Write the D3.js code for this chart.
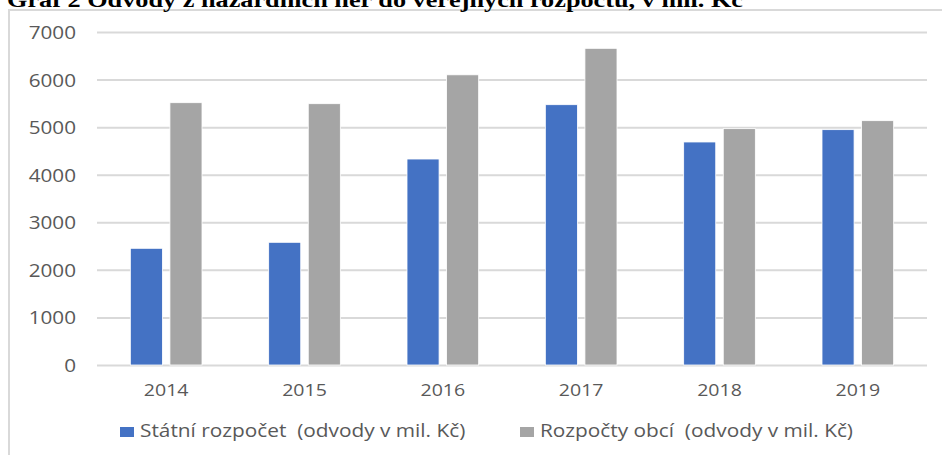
<!DOCTYPE html>
<html>
<head>
<meta charset="utf-8">
<script src="https://cdn.jsdelivr.net/npm/d3@7"></script>
<style>
  body { margin: 0; background: #fff; }
  svg { display: block; }
  text { white-space: pre; }
</style>
</head>
<body>
<div id="chart"></div>
<script>
// data
var years = ["2014", "2015", "2016", "2017", "2018", "2019"];
var statni = [2453, 2579, 4330, 5472, 4688, 4947];
var obce = [5514, 5493, 6100, 6657, 4968, 5136];
var seriesNames = ["Státní rozpočet  (odvody v mil. Kč)", "Rozpočty obcí  (odvody v mil. Kč)"];
var seriesColors = ["#4472C4", "#A5A5A5"];
var yTicks = [0, 1000, 2000, 3000, 4000, 5000, 6000, 7000];
var title = "Graf 2 Odvody z hazardních her do veřejných rozpočtů, v mil. Kč";

var W = 942, H = 455;
var margin = { top: 32, right: 15, bottom: 90, left: 97 };
var sx = 1.15; // text in the picture is stretched sideways

var svg = d3.select("#chart").append("svg")
  .attr("width", W)
  .attr("height", H);

// chart frame (runs off the right and bottom edges)
svg.append("rect")
  .attr("x", 9).attr("y", 10)
  .attr("width", 960).attr("height", 480)
  .attr("fill", "none")
  .attr("stroke", "#d9d9d9")
  .attr("stroke-width", 2);

// title, clipped at the top of the picture like in the source
svg.append("text")
  .attr("transform", "translate(7,7) scale(1.25,1)")
  .attr("font-family", "Liberation Serif")
  .attr("font-weight", "bold")
  .attr("font-size", 21)
  .attr("fill", "#000")
  .text(title);

var data = years.map((y, i) => ({ year: y, values: [statni[i], obce[i]] }));

var x0 = d3.scaleBand()
  .domain(years)
  .range([margin.left, W - margin.right])
  .paddingInner(0.482)
  .paddingOuter(0.241);

var x1 = d3.scaleBand()
  .domain([0, 1])
  .range([0, x0.bandwidth()])
  .paddingInner(0.19);

var y = d3.scaleLinear()
  .domain([0, 7000])
  .range([365, 32]);

// y axis + gridlines
var yaxis = svg.append("g")
  .attr("transform", `translate(${margin.left},0)`)
  .call(d3.axisLeft(y).tickValues(yTicks).tickFormat(d3.format("d"))
    .tickSize(-(W - margin.right - margin.left)).tickPadding(21 / sx));
yaxis.select(".domain").remove();
yaxis.selectAll(".tick line").attr("stroke", "#d9d9d9").attr("stroke-width", 2);
yaxis.selectAll(".tick text")
  .attr("font-family", "Open Sans")
  .attr("font-size", 18)
  .attr("fill", "#595959")
  .attr("dy", "0.36em")
  .attr("transform", `scale(${sx},1)`);

// x axis labels
var xaxis = svg.append("g")
  .attr("transform", "translate(0,365)")
  .call(d3.axisBottom(x0).tickSize(0).tickPadding(0));
xaxis.select(".domain").remove();
xaxis.selectAll(".tick text")
  .attr("font-family", "Open Sans")
  .attr("font-size", 17)
  .attr("fill", "#595959")
  .attr("y", 31)
  .attr("dy", 0)
  .attr("transform", `scale(${sx},1)`);

// bars
var groups = svg.selectAll(".year")
  .data(data)
  .join("g")
  .attr("class", "year")
  .attr("transform", d => `translate(${x0(d.year)},0)`);

groups.selectAll("rect")
  .data(d => d.values.map((v, i) => ({ i: i, v: v })))
  .join("rect")
  .attr("x", d => x1(d.i))
  .attr("y", d => y(d.v))
  .attr("width", x1.bandwidth())
  .attr("height", d => y(0) - y(d.v))
  .attr("fill", d => seriesColors[d.i])
  .attr("stroke", "#fff")
  .attr("stroke-width", 0.8);

// legend
var legend = svg.selectAll(".legend")
  .data(seriesNames)
  .join("g")
  .attr("class", "legend")
  .attr("transform", (d, i) => `translate(${120 + i * 400},427)`);

legend.append("rect")
  .attr("width", 14)
  .attr("height", 10)
  .attr("fill", (d, i) => seriesColors[i]);

legend.append("text")
  .attr("transform", "translate(20,10) scale(1.19,1)")
  .attr("font-family", "Open Sans")
  .attr("font-size", 17.5)
  .attr("fill", "#595959")
  .text(d => d);
</script>
</body>
</html>
